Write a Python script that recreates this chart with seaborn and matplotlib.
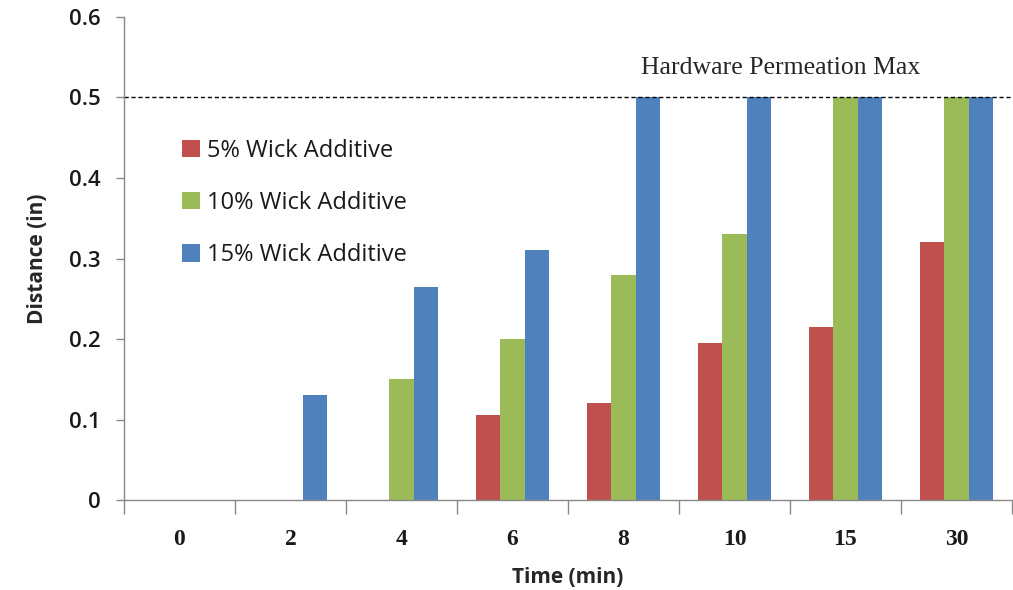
import matplotlib
matplotlib.use("Agg")
import matplotlib.pyplot as plt
import seaborn as sns
import pandas as pd
import numpy as np
from matplotlib.ticker import FixedLocator

times = ["0", "2", "4", "6", "8", "10", "15", "30"]
series_names = ["5% Wick Additive", "10% Wick Additive", "15% Wick Additive"]
wick5 = [0, 0, 0, 0.105, 0.12, 0.195, 0.215, 0.32]
wick10 = [0, 0, 0.15, 0.20, 0.28, 0.33, 0.50, 0.50]
wick15 = [0, 0.13, 0.265, 0.31, 0.50, 0.50, 0.50, 0.50]
colors = ["#C0504D", "#9BBB59", "#4F81BD"]
max_line = 0.5
max_label = "Hardware Permeation Max"

rows = []
for name, vals in zip(series_names, [wick5, wick10, wick15]):
    for t, v in zip(times, vals):
        rows.append({"Time": t, "Series": name, "Distance": v})
df = pd.DataFrame(rows)

sns.set_style("white")
plt.rcParams['font.family'] = ['Open Sans', 'DejaVu Sans']

fig = plt.figure(figsize=(10.13, 5.90), dpi=100)
ax = fig.add_axes([0.1224, 0.1525, 0.8766, 0.8187])

sns.barplot(data=df, x="Time", y="Distance", hue="Series", order=times,
            hue_order=series_names, palette=colors, width=0.66, gap=0,
            saturation=1, linewidth=0, errorbar=None, ax=ax)

ax.set_ylim(0, 0.6)
ax.set_xlim(-0.5, len(times) - 0.5)
ax.set_yticks(np.arange(0, 0.61, 0.1))
ax.set_yticklabels(["0", "0.1", "0.2", "0.3", "0.4", "0.5", "0.6"],
                   fontsize=16, fontweight="semibold", color="#1a1a1a")
ax.set_xticks(range(len(times)))
ax.set_xticklabels(times, fontsize=17, fontweight="bold", color="#1a1a1a",
                   family="Liberation Serif")
ax.xaxis.set_minor_locator(FixedLocator(np.arange(-0.5, len(times), 1.0)))
ax.tick_params(axis="x", which="major", length=0, pad=21)
ax.tick_params(axis="x", which="minor", length=10, width=1, color="#888888", direction="out", bottom=True)
ax.tick_params(axis="y", which="major", length=6, width=1, color="#888888", direction="out", left=True, pad=11)

for s in ["top", "right"]:
    ax.spines[s].set_visible(False)
for s in ["left", "bottom"]:
    ax.spines[s].set_color("#888888")
    ax.spines[s].set_linewidth(1)

ax.set_xlabel("Time (min)", fontsize=15, fontweight="bold", labelpad=12)
ax.set_ylabel("Distance (in)", fontsize=15, fontweight="bold", labelpad=15)

ax.axhline(max_line, color="black", linestyle=(0, (3, 2)), linewidth=1)
ax.text(5.42, 0.537, max_label, ha="center", va="center",
        fontsize=18.5, family="Liberation Serif")

leg = ax.legend(loc="upper left", bbox_to_anchor=(0.055, 0.768), frameon=False,
                fontsize=17, handlelength=0.75, handleheight=0.75,
                handletextpad=0.3, labelspacing=1.2, borderaxespad=0)
for t in leg.get_texts():
    t.set_color("#1a1a1a")

fig.savefig("out.png", dpi=100)
